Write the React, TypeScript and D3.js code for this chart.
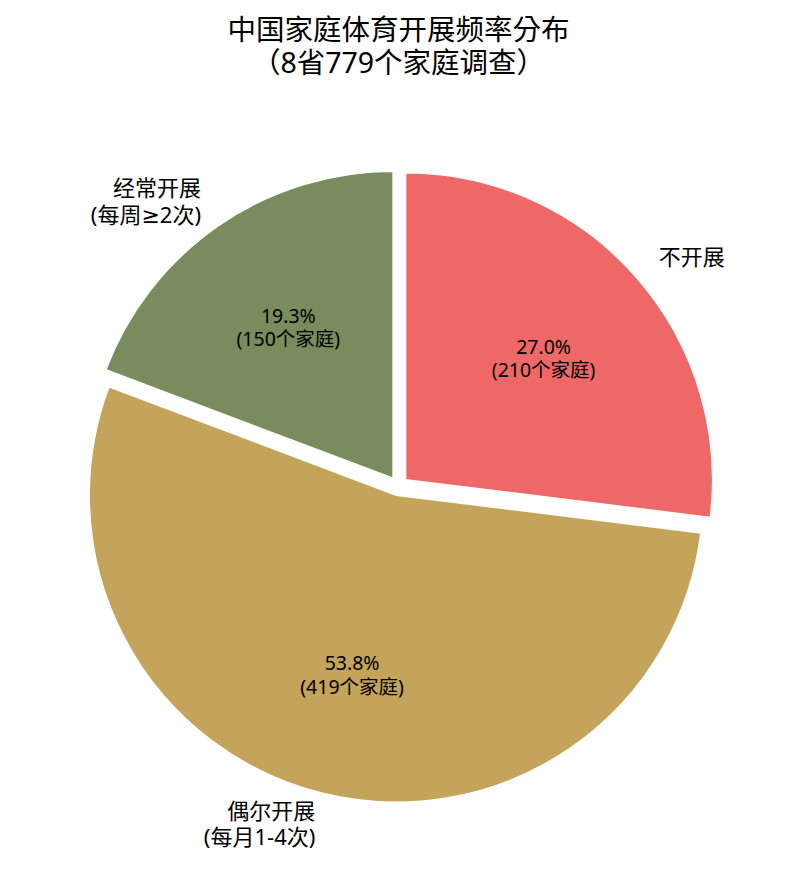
import { useMemo } from "react";
import * as d3 from "d3";

const CATEGORIES = ["不开展", "偶尔开展\n(每月1-4次)", "经常开展\n(每周≥2次)"];
const COUNTS = [210, 419, 150];
const COLORS = ["#EE6868", "#C4A35A", "#788C5D"];
const TITLE = ["中国家庭体育开展频率分布", "（8省779个家庭调查）"];

const W = 797;
const H = 885;
const CX = 398.5;
const CY = 486;
const R = 307;
const EXPLODE = 9.5;
const FONT = "'Noto Sans', 'DejaVu Sans', 'Noto Sans CJK SC', sans-serif";
const TITLE_FONT = "'Noto Sans', 'Noto Sans CJK TC', sans-serif";

type Slice = { label: string; count: number; color: string };

function Lines({ x, y, lines, size, anchor, font = FONT, lh = 1.2 }: {
  x: number; y: number; lines: string[]; size: number; anchor: string; font?: string; lh?: number;
}) {
  const step = size * lh;
  const y0 = y - ((lines.length - 1) * step) / 2;
  return (
    <text x={x} y={y0} textAnchor={anchor} fontSize={size} fontFamily={font}
      fill="#000" dominantBaseline="central">
      {lines.map((l, i) => (
        <tspan key={i} x={x} y={y0 + i * step}>{l}</tspan>
      ))}
    </text>
  );
}

export default function App() {
  const rows: Slice[] = CATEGORIES.map((label, i) => ({ label, count: COUNTS[i], color: COLORS[i] }));
  const total = d3.sum(COUNTS);

  const arcs = useMemo(
    () => d3.pie<Slice>().value((d) => d.count).sort(null)(rows),
    []
  );
  const arc = d3.arc<d3.PieArcDatum<Slice>>().innerRadius(0).outerRadius(R);

  return (
    <svg width={W} height={H} style={{ position: "absolute", left: 0, top: 0, background: "#fff" }}>
      {/* title */}
      <Lines x={W / 2} y={45.5} lines={TITLE} size={28.5} anchor="middle" font={TITLE_FONT} lh={1.16} />

      <g transform={`translate(${CX},${CY})`}>
        {arcs.map((a) => {
          const mid = (a.startAngle + a.endAngle) / 2;
          const dx = Math.sin(mid) * EXPLODE;
          const dy = -Math.cos(mid) * EXPLODE;
          return (
            <path key={a.data.label} d={arc(a) ?? ""} fill={a.data.color}
              stroke="#fff" strokeWidth={1.5} strokeLinejoin="round"
              transform={`translate(${dx},${dy})`} />
          );
        })}

        {arcs.map((a) => {
          const mid = (a.startAngle + a.endAngle) / 2;
          const ox = Math.sin(mid) * EXPLODE;
          const oy = -Math.cos(mid) * EXPLODE;
          const lx = ox + Math.sin(mid) * R * 1.1;
          const ly = oy - Math.cos(mid) * R * 1.1;
          const px = ox + Math.sin(mid) * R * 0.6;
          const py = oy - Math.cos(mid) * R * 0.6;
          const pct = ((a.data.count / total) * 100).toFixed(1);
          return (
            <g key={`t-${a.data.label}`}>
              <Lines x={lx} y={ly} lines={a.data.label.split("\n")} size={22}
                anchor={lx > 0 ? "start" : "end"} />
              <Lines x={px} y={py} lines={[`${pct}%`, `(${a.data.count}个家庭)`]} size={19.5}
                anchor="middle" />
            </g>
          );
        })}
      </g>
    </svg>
  );
}
